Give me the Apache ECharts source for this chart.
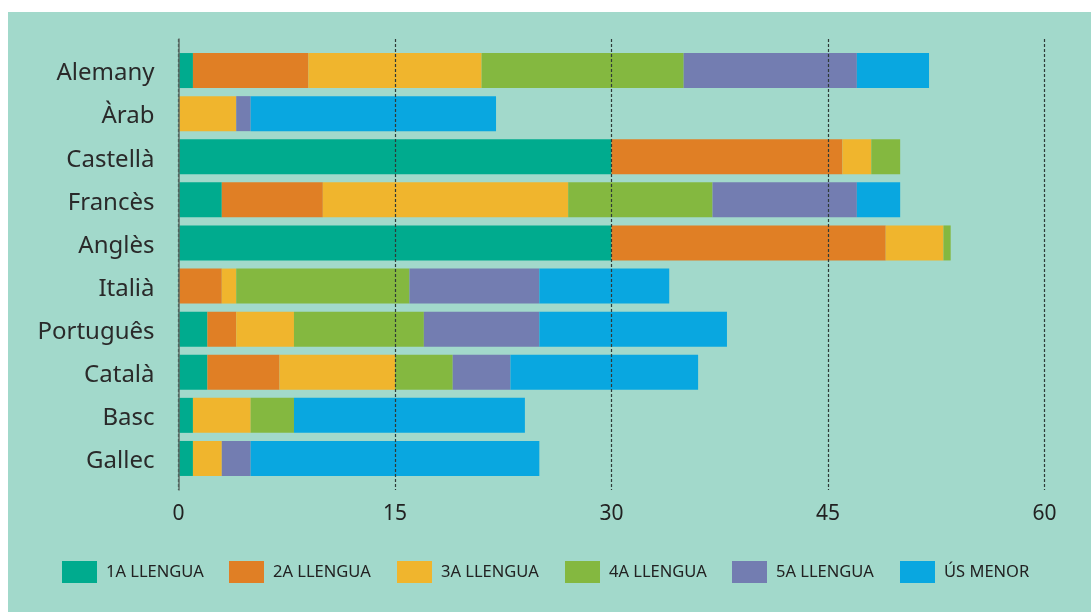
<!DOCTYPE html>
<html>
<head>
<meta charset="utf-8">
<script src="https://cdn.jsdelivr.net/npm/echarts@6/dist/echarts.min.js"></script>
<style>
html,body{margin:0;padding:0;background:#ffffff;}
#bg{position:absolute;left:8px;top:12px;width:1083px;height:600px;background:#a2d9cb;}
#chart{position:absolute;left:0;top:0;width:1091px;height:612px;}
</style>
</head>
<body>
<div id="bg"></div>
<div id="chart"></div>
<script>
const categories = ['Alemany', 'Àrab', 'Castellà', 'Francès', 'Anglès', 'Italià', 'Português', 'Català', 'Basc', 'Gallec'];
const seriesNames = ['1A LLENGUA', '2A LLENGUA', '3A LLENGUA', '4A LLENGUA', '5A LLENGUA', 'ÚS MENOR'];
const llengua1 = [1, 0, 30, 3, 30, 0, 2, 2, 1, 1];
const llengua2 = [8, 0, 16, 7, 19, 3, 2, 5, 0, 0];
const llengua3 = [12, 4, 2, 17, 4, 1, 4, 8, 4, 2];
const llengua4 = [14, 0, 2, 10, 0.5, 12, 9, 4, 3, 0];
const llengua5 = [12, 1, 0, 10, 0, 9, 8, 4, 0, 2];
const usMenor = [5, 17, 0, 3, 0, 9, 13, 13, 16, 20];
const xTicks = [0, 15, 30, 45, 60];
const colors = ['#00ab8e', '#e07f25', '#f0b52d', '#84b840', '#737db1', '#09a7e0'];

const values = [llengua1, llengua2, llengua3, llengua4, llengua5, usMenor];
const font = '"Noto Sans", sans-serif';
const legendLefts = [62, 229, 397, 565, 732, 900];

const chart = echarts.init(document.getElementById('chart'), null, {renderer: 'canvas'});
const option = {
  backgroundColor: 'transparent',
  animation: false,
  color: colors,
  legend: seriesNames.map((name, i) => ({
    left: legendLefts[i],
    top: 561,
    padding: 0,
    itemWidth: 35,
    itemHeight: 22,
    icon: 'rect',
    data: [name],
    textStyle: {
      fontFamily: font,
      fontSize: 16.5,
      color: '#222222',
      padding: [0, 0, 0, 4]
    }
  })),
  grid: [
    {left: 178.5, right: 46.5, top: 39, bottom: 122, containLabel: false},
    {left: 178.5, right: 46.5, top: 49, bottom: 132, containLabel: false}
  ],
  xAxis: [
    {
      gridIndex: 0, type: 'value', min: xTicks[0], max: xTicks[xTicks.length - 1], interval: 15,
      z: 10,
      axisLine: {show: false},
      axisTick: {show: false},
      axisLabel: {fontFamily: font, fontSize: 21, color: '#222222', margin: 14},
      splitLine: {show: true, lineStyle: {color: '#2f3a37', width: 1.2, type: [3, 2]}}
    },
    {
      gridIndex: 1, type: 'value', min: xTicks[0], max: xTicks[xTicks.length - 1],
      show: false, splitLine: {show: false}
    }
  ],
  yAxis: [
    {
      gridIndex: 0, type: 'value', min: 0, max: 1, z: 10,
      axisLine: {show: true, lineStyle: {color: '#5e6e69', width: 1.5}},
      axisTick: {show: false}, axisLabel: {show: false}, splitLine: {show: false}
    },
    {
      gridIndex: 1, type: 'category', data: categories, inverse: true,
      axisLine: {show: false}, axisTick: {show: false}, splitLine: {show: false},
      axisLabel: {
        margin: 24,
        formatter: v => '{a|' + v + '}',
        rich: {a: {fontFamily: font, fontSize: 24, color: '#2a2a2a', padding: [6, 0, 0, 0]}}
      }
    }
  ],
  series: seriesNames.map((name, i) => ({
    name: name,
    type: 'bar',
    stack: 'total',
    xAxisIndex: 1,
    yAxisIndex: 1,
    barWidth: 35,
    itemStyle: {color: colors[i]},
    data: values[i]
  }))
};
chart.setOption(option);
</script>
</body>
</html>
